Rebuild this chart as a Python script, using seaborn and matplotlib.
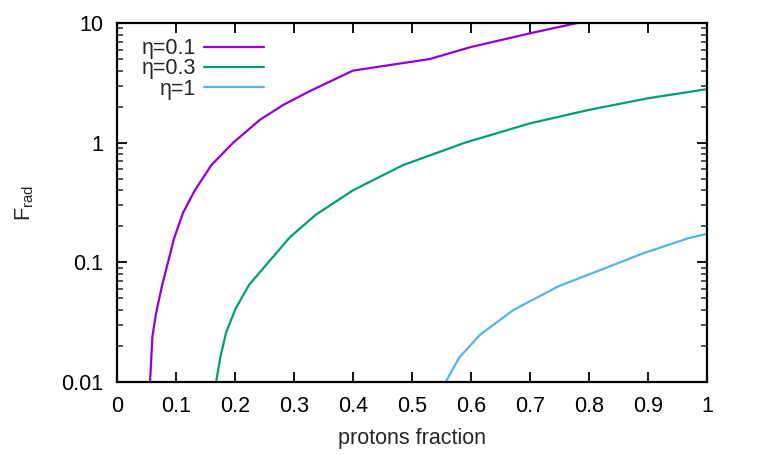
import numpy as np
import pandas as pd
import matplotlib
matplotlib.use("Agg")
import matplotlib.pyplot as plt
import seaborn as sns
from matplotlib.ticker import FixedLocator, LogLocator, NullFormatter

# ---- data ----
p_eta01 = [0.056, 0.060, 0.066, 0.076, 0.097, 0.112, 0.132, 0.160, 0.197, 0.242,
           0.282, 0.327, 0.400, 0.530, 0.600, 0.700, 0.800]
F_eta01 = [0.01, 0.024, 0.037, 0.063, 0.16, 0.26, 0.40, 0.65, 1.0, 1.55,
           2.07, 2.7, 4.0, 5.0, 6.3, 8.2, 10.5]

p_eta03 = [0.168, 0.175, 0.185, 0.201, 0.224, 0.293, 0.337, 0.400, 0.485, 0.590,
           0.700, 0.800, 0.900, 1.000]
F_eta03 = [0.01, 0.016, 0.026, 0.041, 0.065, 0.162, 0.25, 0.40, 0.65, 1.0,
           1.45, 1.88, 2.35, 2.8]

p_eta1 = [0.557, 0.580, 0.616, 0.672, 0.748, 0.892, 0.968, 1.000]
F_eta1 = [0.01, 0.016, 0.025, 0.040, 0.063, 0.119, 0.159, 0.173]

series_labels = ["η=0.1", "η=0.3", "η=1"]
series_colors = ["#9400D3", "#009E73", "#56B4E9"]

x_ticks = [0, 0.1, 0.2, 0.3, 0.4, 0.5, 0.6, 0.7, 0.8, 0.9, 1]
x_tick_labels = ["0", "0.1", "0.2", "0.3", "0.4", "0.5", "0.6", "0.7", "0.8", "0.9", "1"]
y_ticks = [0.01, 0.1, 1, 10]
y_tick_labels = ["0.01", "0.1", "1", "10"]

df = pd.concat([
    pd.DataFrame({"p": p_eta01, "F": F_eta01, "s": series_labels[0]}),
    pd.DataFrame({"p": p_eta03, "F": F_eta03, "s": series_labels[1]}),
    pd.DataFrame({"p": p_eta1, "F": F_eta1, "s": series_labels[2]}),
], ignore_index=True)

sns.set_style("white")
plt.rcParams["font.family"] = ["Liberation Sans", "DejaVu Sans"]

fig = plt.figure(figsize=(7.58, 4.55), dpi=100)
ax = fig.add_axes([117 / 758, 1 - 382 / 455, (707 - 117) / 758, (382 - 23) / 455])

sns.lineplot(data=df, x="p", y="F", hue="s", palette=dict(zip(series_labels, series_colors)),
             sort=False, estimator=None, linewidth=1.6, ax=ax, legend=True)

ax.set_yscale("log")
ax.set_xlim(0, 1)
ax.set_ylim(0.01, 10)

fs = 15.5
ax.xaxis.set_major_locator(FixedLocator(x_ticks))
ax.set_xticklabels(x_tick_labels, fontsize=fs)
ax.yaxis.set_major_locator(FixedLocator(y_ticks))
ax.set_yticklabels(y_tick_labels, fontsize=fs)
ax.yaxis.set_minor_locator(LogLocator(base=10, subs=np.arange(2, 10)))
ax.yaxis.set_minor_formatter(NullFormatter())

ax.tick_params(which="major", direction="in", length=7, width=1.3,
               top=True, right=True, bottom=True, left=True, pad=10, colors="black")
ax.tick_params(which="minor", direction="in", length=4, width=1.1,
               left=True, right=True)
for sp in ax.spines.values():
    sp.set_linewidth(1.6)
    sp.set_color("black")

ax.set_xlabel("protons fraction", fontsize=fs, labelpad=8)
ax.set_ylabel("F$_\\mathregular{rad}$", fontsize=fs, labelpad=18)

handles, labels = ax.get_legend_handles_labels()
leg = ax.legend(handles, labels, loc="upper left", bbox_to_anchor=(0.016, 1.0),
                markerfirst=False, frameon=False, fontsize=fs, handlelength=2.75,
                labelspacing=-0.03, handletextpad=0.4, borderaxespad=0.3)
for h in leg.legend_handles:
    h.set_linewidth(1.6)

fig.savefig("out.png", dpi=100)
